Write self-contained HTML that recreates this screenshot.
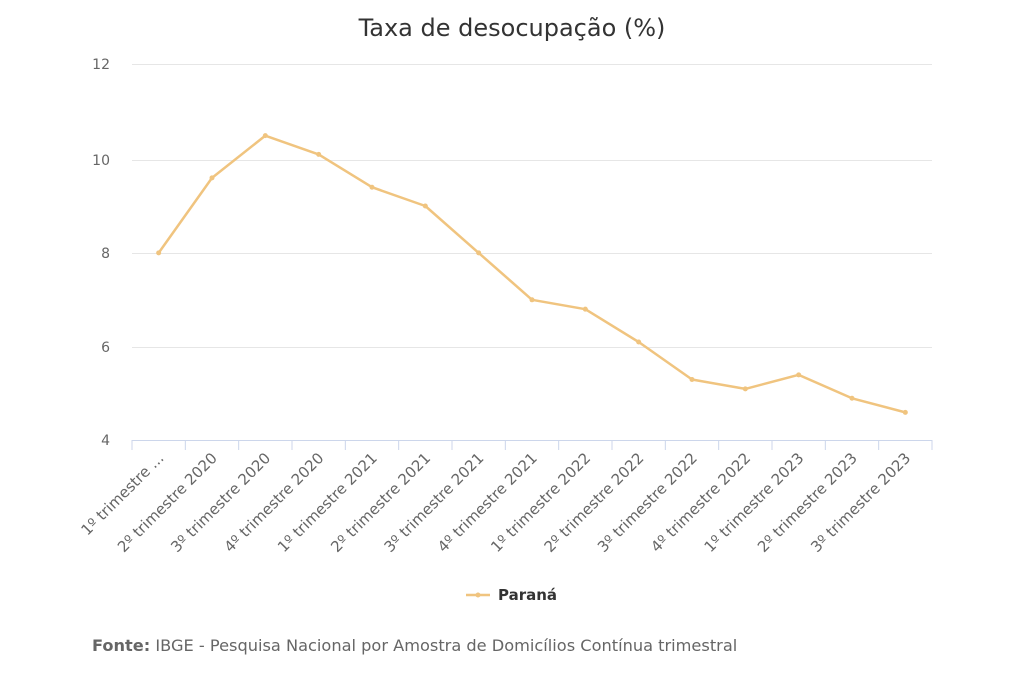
<!DOCTYPE html>
<html><head><meta charset="utf-8"><style>
body{margin:0;background:#fff;}
svg{display:block;font-family:"DejaVu Sans","Liberation Sans",sans-serif;}
</style></head><body>
<svg width="1024" height="683" viewBox="0 0 1024 683">
<text x="512" y="36" text-anchor="middle" font-size="24" fill="#333">Taxa de desocupação (%)</text>
<g stroke="#e6e6e6" stroke-width="1">
<line x1="132" y1="64.5" x2="932" y2="64.5"/>
<line x1="132" y1="160.5" x2="932" y2="160.5"/>
<line x1="132" y1="253.5" x2="932" y2="253.5"/>
<line x1="132" y1="347.5" x2="932" y2="347.5"/>
</g>
<g stroke="#ccd6eb" stroke-width="1">
<line x1="132" y1="440.5" x2="932" y2="440.5"/>
</g>
<g stroke="#ccd6eb" id="ticks"></g>
<g font-size="14" fill="#666" text-anchor="end">
<text x="110" y="69">12</text>
<text x="110" y="165">10</text>
<text x="110" y="258">8</text>
<text x="110" y="352">6</text>
<text x="110" y="445">4</text>
</g>
<g id="xl" font-size="15" fill="#666" text-anchor="end"></g>
<polyline id="ln" fill="none" stroke="#f0c47f" stroke-width="2.5" stroke-linejoin="round"/>
<g id="pts" fill="#f0c47f"></g>
<line x1="466" y1="595" x2="490" y2="595" stroke="#f0c47f" stroke-width="2.5"/>
<circle cx="478" cy="595" r="2.5" fill="#f0c47f"/>
<text x="498" y="600" font-size="15" font-weight="bold" fill="#333">Paraná</text>
<text x="92" y="651" font-size="16.2" fill="#666"><tspan font-weight="bold">Fonte:</tspan> IBGE - Pesquisa Nacional por Amostra de Domicílios Contínua trimestral</text>
</svg>
<script>
var v=[8,9.6,10.5,10.1,9.4,9.0,8.0,7.0,6.8,6.1,5.3,5.1,5.4,4.9,4.6];
var lb=["1º trimestre ...","2º trimestre 2020","3º trimestre 2020","4º trimestre 2020","1º trimestre 2021","2º trimestre 2021","3º trimestre 2021","4º trimestre 2021","1º trimestre 2022","2º trimestre 2022","3º trimestre 2022","4º trimestre 2022","1º trimestre 2023","2º trimestre 2023","3º trimestre 2023"];
var ns="http://www.w3.org/2000/svg",w=800/15,pts=[];
var tk=document.getElementById("ticks"),xl=document.getElementById("xl"),pg=document.getElementById("pts");
for(var i=0;i<=15;i++){var l=document.createElementNS(ns,"line");var x=132+w*i;l.setAttribute("x1",x);l.setAttribute("x2",x);l.setAttribute("y1",440);l.setAttribute("y2",450);tk.appendChild(l);}
v.forEach(function(d,i){var x=132+w*(i+0.5),y=440.5-(d-4)*46.9;pts.push(x+","+y);
var c=document.createElementNS(ns,"circle");c.setAttribute("cx",x);c.setAttribute("cy",y);c.setAttribute("r",2.5);pg.appendChild(c);
var t=document.createElementNS(ns,"text");var tx=x+6,ty=459;t.setAttribute("x",tx);t.setAttribute("y",ty);t.setAttribute("transform","rotate(-45 "+tx+" "+ty+")");t.textContent=lb[i];xl.appendChild(t);});
document.getElementById("ln").setAttribute("points",pts.join(" "));
</script>
</body></html>
